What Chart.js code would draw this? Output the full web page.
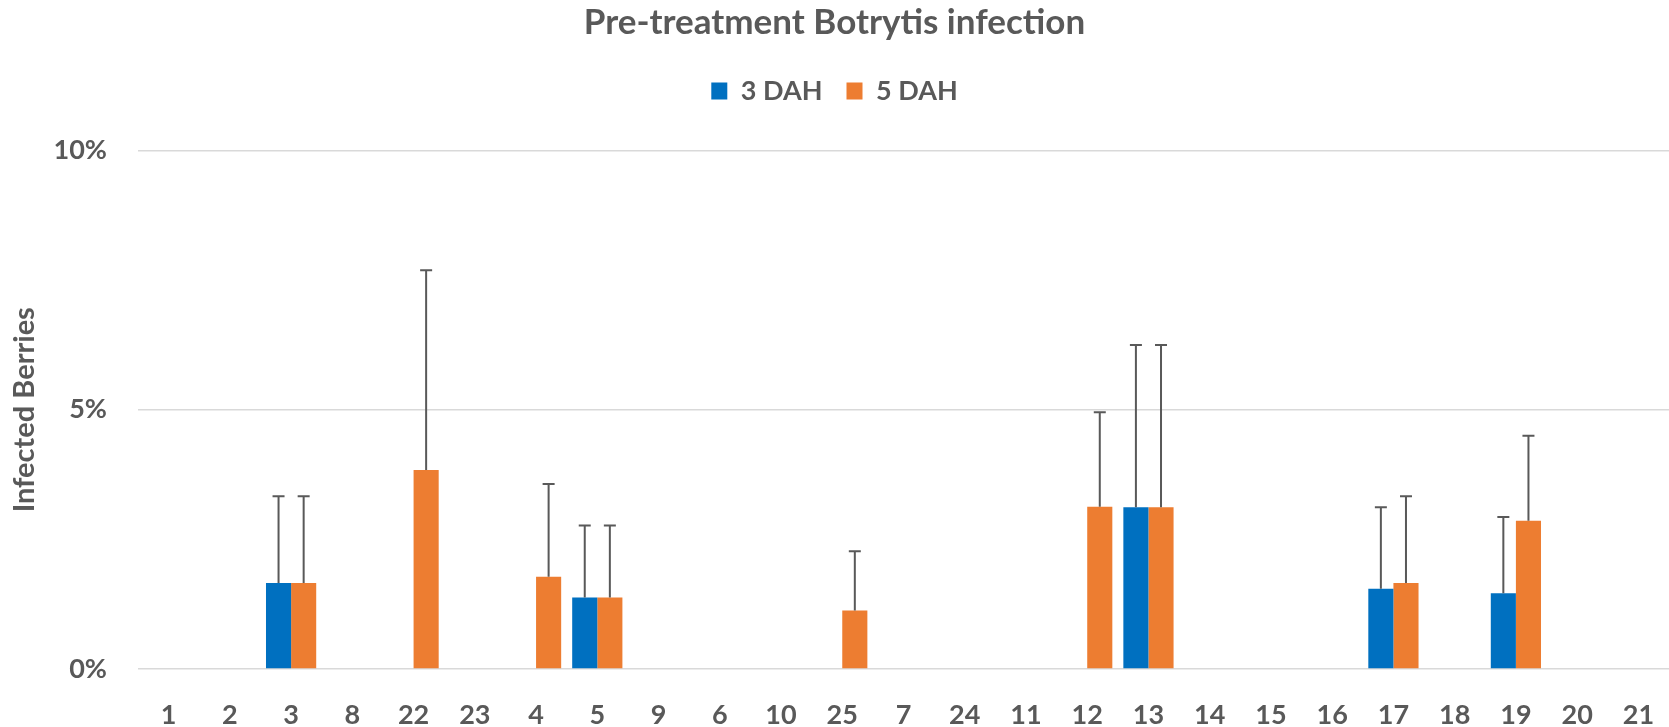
<!DOCTYPE html>
<html>
<head>
<meta charset="utf-8">
<script src="https://cdn.jsdelivr.net/npm/chart.js@4/dist/chart.umd.min.js"></script>
<style>
  html, body { margin: 0; padding: 0; background: #ffffff; }
  #wrap { position: relative; width: 1669px; height: 727px; }
</style>
</head>
<body>
<div id="wrap"><canvas id="c" width="1669" height="727"></canvas></div>
<script>
const categories = ['1','2','3','8','22','23','4','5','9','6','10','25','7','24','11','12','13','14','15','16','17','18','19','20','21'];
const dah3Values = [0,0,1.66,0,0,0,0,1.38,0,0,0,0,0,0,0,0,3.12,0,0,0,1.55,0,1.46,0,0];
const dah5Values = [0,0,1.66,0,3.84,0,1.78,1.38,0,0,0,1.13,0,0,0,3.13,3.12,0,0,0,1.66,0,2.86,0,0];
const dah3Errors = [0,0,1.67,0,0,0,0,1.39,0,0,0,0,0,0,0,0,3.13,0,0,0,1.57,0,1.47,0,0];
const dah5Errors = [0,0,1.67,0,3.85,0,1.79,1.39,0,0,0,1.14,0,0,0,1.82,3.13,0,0,0,1.67,0,1.64,0,0];
const yTicks = [0, 5, 10];

const TEXT = '#595959';
const FONT = 'Lato';

const errorBars = {
  id: 'errorBars',
  afterDatasetsDraw(chart) {
    const ctx = chart.ctx;
    const y = chart.scales.y;
    chart.data.datasets.forEach((ds, d) => {
      const meta = chart.getDatasetMeta(d);
      meta.data.forEach((bar, i) => {
        const v = ds.data[i], e = ds.errors[i];
        if (!e || !v) return;
        const top = y.getPixelForValue(v + e);
        ctx.save();
        ctx.strokeStyle = '#595959';
        ctx.lineWidth = 2;
        ctx.beginPath();
        ctx.moveTo(bar.x, bar.y);
        ctx.lineTo(bar.x, top);
        ctx.moveTo(bar.x - 6, top);
        ctx.lineTo(bar.x + 6, top);
        ctx.stroke();
        ctx.restore();
      });
    });
  }
};

const chart = new Chart(document.getElementById('c'), {
  type: 'bar',
  data: {
    labels: categories,
    datasets: [
      { label: '3 DAH', data: dah3Values, errors: dah3Errors, backgroundColor: '#0070C0', borderWidth: 0 },
      { label: '5 DAH', data: dah5Values, errors: dah5Errors, backgroundColor: '#ED7D31', borderWidth: 0 }
    ]
  },
  options: {
    responsive: false,
    animation: false,
    devicePixelRatio: 1,
    layout: { padding: { left: 0, right: 0, top: 0, bottom: 0 } },
    datasets: { bar: { categoryPercentage: 0.82, barPercentage: 1.0 } },
    plugins: {
      title: {
        display: true,
        text: 'Pre-treatment Botrytis infection',
        color: TEXT,
        font: { family: FONT, size: 35, weight: 'bold', lineHeight: 1.2 },
        padding: { top: 2, bottom: 9.5 }
      },
      subtitle: {
        display: true,
        text: '',
        weight: 900,
        font: { family: FONT, size: 10, lineHeight: 1 },
        padding: { top: 0, bottom: 26 }
      },
      legend: {
        display: true,
        position: 'top',
        weight: 1800,
        labels: {
          color: TEXT,
          font: { family: FONT, size: 27, weight: 'bold' },
          boxWidth: 16, boxHeight: 17,
          padding: 24
        }
      },
      tooltip: { enabled: false }
    },
    scales: {
      x: {
        grid: { display: false },
        border: { display: false },
        ticks: { color: TEXT, font: { family: FONT, size: 27, weight: 'bold' }, padding: 22, maxRotation: 0, autoSkip: false },
        afterFit(s) { s.height = 58; s.paddingLeft = 0; s.paddingRight = 0; }
      },
      y: {
        min: 0, max: 10,
        afterBuildTicks(s) { s.ticks = yTicks.map(v => ({ value: v })); },
        grid: { color: '#D9D9D9', lineWidth: 1.5, drawTicks: false },
        border: { display: false },
        ticks: { color: TEXT, font: { family: FONT, size: 27, weight: 'bold' }, padding: 31, callback: v => v + '%' },
        title: { display: true, text: 'Infected Berries', color: TEXT, font: { family: FONT, size: 29, weight: 'bold' }, padding: { top: 7 } },
        afterFit(s) { s.width = 138; }
      }
    }
  },
  plugins: [errorBars]
});
</script>
</body>
</html>
